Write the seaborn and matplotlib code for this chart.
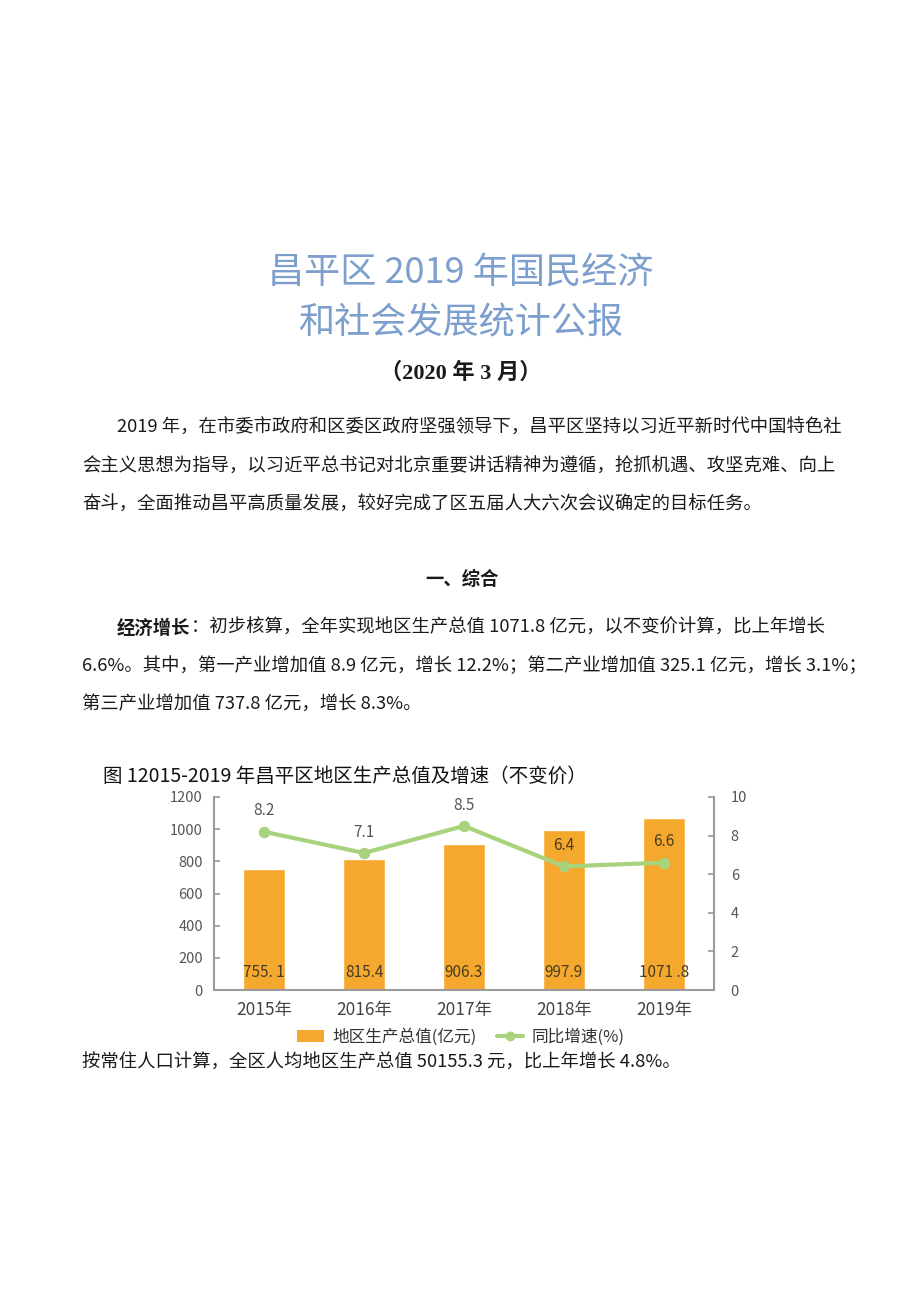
import numpy as np
import pandas as pd
import seaborn as sns
import matplotlib.pyplot as plt
from matplotlib.patches import Patch
from matplotlib.lines import Line2D

# datos del gráfico
years = ["2015年", "2016年", "2017年", "2018年", "2019年"]
gdp = [755.1, 815.4, 906.3, 997.9, 1071.8]
gdp_labels = ["755. 1", "815.4", "906.3", "997.9", "1071 .8"]
growth = [8.2, 7.1, 8.5, 6.4, 6.6]
left_ticks = [0, 200, 400, 600, 800, 1000, 1200]
right_ticks = [0, 2, 4, 6, 8, 10]

sns.set_theme(style="white")
plt.rcParams['font.family'] = ['Noto Sans CJK SC', 'DejaVu Sans']

W, H = 920, 1301
fig = plt.figure(figsize=(9.2, 13.01), dpi=100)
fig.patch.set_facecolor('white')

def px(x, y):
    return x / W, 1 - y / H

title_blue = '#7d9fcd'
txt = '#1a1a1a'
body_fs = 13.2

# titulo del documento
fig.text(*px(461, 273), "昌平区 2019 年国民经济", ha='center', va='center',
         fontsize=26, color=title_blue)
fig.text(*px(461, 323), "和社会发展统计公报", ha='center', va='center',
         fontsize=26, color=title_blue)
fig.text(*px(461, 373), "（2020 年 3 月）", ha='center', va='center',
         fontsize=16, color=txt, fontweight='bold',
         family=['Liberation Serif', 'Noto Sans CJK SC'])

# texto del cuerpo
lines = [
    (117, 428, "2019 年，在市委市政府和区委区政府坚强领导下，昌平区坚持以习近平新时代中国特色社"),
    (82, 467, "会主义思想为指导，以习近平总书记对北京重要讲话精神为遵循，抢抓机遇、攻坚克难、向上"),
    (82, 505, "奋斗，全面推动昌平高质量发展，较好完成了区五届人大六次会议确定的目标任务。"),
    (82, 666, "6.6%。其中，第一产业增加值 8.9 亿元，增长 12.2%；第二产业增加值 325.1 亿元，增长 3.1%；"),
    (82, 704, "第三产业增加值 737.8 亿元，增长 8.3%。"),
    (82, 1063, "按常住人口计算，全区人均地区生产总值 50155.3 元，比上年增长 4.8%。"),
]
for x, y, s in lines:
    fig.text(*px(x, y), s, ha='left', va='center', fontsize=body_fs, color=txt)

fig.text(*px(462, 579), "一、综合", ha='center', va='center', fontsize=body_fs,
         color=txt, fontweight='bold')
fig.text(*px(117, 628), "经济增长", ha='left', va='center', fontsize=body_fs,
         color=txt, fontweight='bold')
fig.text(*px(191, 628), "：初步核算，全年实现地区生产总值 1071.8 亿元，以不变价计算，比上年增长",
         ha='left', va='center', fontsize=body_fs, color=txt)

# titulo del gráfico
fig.text(*px(103, 776), "图 12015-2019 年昌平区地区生产总值及增速（不变价）",
         ha='left', va='center', fontsize=14, color='#111111')

# ejes
orange = '#f5a82e'
green = '#a9d27c'
gray = '#9a9a9a'
ax = fig.add_axes([214 / W, 1 - 990 / H, 500 / W, 193 / H])
df = pd.DataFrame({"year": years, "gdp": gdp})
sns.barplot(data=df, x="year", y="gdp", color=orange, width=0.42,
            saturation=1, ax=ax)
ax.set_ylim(0, 1200)
ax.set_xlim(-0.5, 4.5)
ax.set_yticks(left_ticks)
ax.set_xlabel("")
ax.set_ylabel("")
ax.tick_params(axis='y', direction='in', length=4, color=gray, labelsize=10.5,
               labelcolor='#555555', pad=8)
ax.tick_params(axis='x', length=0, labelsize=12.5, labelcolor='#444444', pad=8)
for i, lab in enumerate(gdp_labels):
    ax.text(i, 110, lab, ha='center', va='center', fontsize=11, color='#4a3c22')

ax2 = ax.twinx()
sns.pointplot(x=years, y=growth, color=green, markers='o', ax=ax2,
              markersize=6, linewidth=3)
ax2.set_ylim(0, 10)
ax2.set_xlim(-0.5, 4.5)
ax2.set_yticks(right_ticks)
ax2.set_ylabel("")
ax2.tick_params(axis='y', direction='in', length=4, color=gray, labelsize=10.5,
                labelcolor='#555555', pad=12)
for i, v in enumerate(growth):
    ax2.annotate(f"{v}", (i, v), xytext=(0, 15), textcoords='offset points',
                 ha='center', va='center', fontsize=11,
                 color='#4a3c22' if i >= 3 else '#555555')

for a in (ax, ax2):
    a.spines['top'].set_visible(False)
    for side in ['left', 'right', 'bottom']:
        a.spines[side].set_color(gray)
        a.spines[side].set_linewidth(1.5)
ax.spines['right'].set_visible(False)
ax2.spines['left'].set_visible(False)
ax2.spines['bottom'].set_visible(False)

handles = [Patch(facecolor=orange, edgecolor='none'),
           Line2D([0], [0], color=green, lw=3, marker='o', markersize=6)]
fig.legend(handles, ["地区生产总值(亿元)", "同比增速(%)"], loc='center',
           bbox_to_anchor=px(461, 1037), ncol=2, frameon=False, fontsize=12,
           handlelength=1.6, handletextpad=0.5, columnspacing=1.2,
           labelcolor='#333333')

fig.savefig("out.png", dpi=100, facecolor='white')
